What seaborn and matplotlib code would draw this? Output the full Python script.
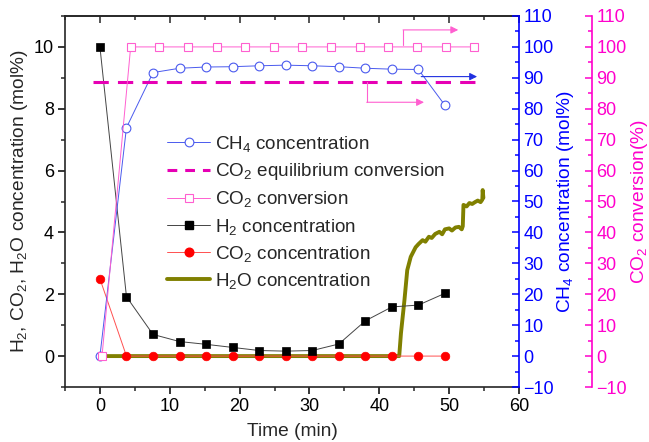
import matplotlib
matplotlib.use('Agg')
import matplotlib.pyplot as plt
import seaborn as sns
from matplotlib.lines import Line2D
from matplotlib.ticker import MultipleLocator

# ---------------- data ----------------
time_pts = [0, 3.8, 7.6, 11.4, 15.2, 19.0, 22.8, 26.6, 30.4, 34.2, 38.0, 41.8, 45.6, 49.4]
h2_conc = [10.0, 1.92, 0.70, 0.47, 0.38, 0.28, 0.18, 0.16, 0.18, 0.39, 1.14, 1.59, 1.65, 2.03]
co2_conc = [2.5, 0, 0, 0, 0, 0, 0, 0, 0, 0, 0, 0, 0, 0]
ch4_conc = [0, 73.9, 91.7, 93.1, 93.5, 93.6, 93.9, 94.1, 93.9, 93.6, 93.1, 92.8, 92.7, 81.1]

conv_time = [0.3, 4.4, 8.5, 12.6, 16.7, 20.8, 24.9, 29.0, 33.1, 37.2, 41.3, 45.4, 49.5, 53.6]
co2_conv = [0, 100, 100, 100, 100, 100, 100, 100, 100, 100, 100, 100, 100, 100]

eq_time = [-1, 55]
co2_eq_conv = [88.5, 88.5]

h2o_time = [0, 42.85, 43.1, 43.6, 44.0, 44.5, 45.2, 45.6, 46.2, 46.6, 47.1, 47.5, 48.0,
            48.6, 49.0, 49.4, 50.0, 50.4, 50.9, 51.4, 51.8, 51.95, 52.05, 52.5, 52.9,
            53.3, 53.7, 54.1, 54.5, 54.75, 54.8, 54.9]
h2o_conc = [0, 0, 0.74, 1.81, 2.78, 3.21, 3.52, 3.62, 3.75, 3.70, 3.86, 3.82, 3.95,
            4.02, 3.94, 4.10, 4.13, 4.06, 4.16, 4.18, 4.10, 4.20, 4.89, 4.84, 4.95,
            4.92, 4.98, 5.03, 4.98, 5.06, 5.37, 5.12]

legend_labels = ["CH$_4$ concentration", "CO$_2$ equilibrium conversion", "CO$_2$ conversion",
                 "H$_2$ concentration", "CO$_2$ concentration", "H$_2$O concentration"]

# ---------------- style ----------------
sns.set_style('ticks')
plt.rcParams['font.family'] = ['Liberation Sans', 'DejaVu Sans']
plt.rcParams['mathtext.fontset'] = 'custom'
plt.rcParams['mathtext.rm'] = 'Liberation Sans'
plt.rcParams['mathtext.it'] = 'Liberation Sans:italic'
plt.rcParams['mathtext.default'] = 'regular'

BLUE_AX = '#0000ff'
BLUE = '#4a5aee'
PINK_AX = '#ff00cc'
PINK = '#ff5fd0'
MAG = '#e600b4'
RED = '#ff0000'
OLIVE = '#808000'
TICK_FS = 13
LABEL_FS = 13.8

fig = plt.figure(figsize=(6.49, 4.42), dpi=100)
ax = fig.add_axes([65 / 649, 1 - 387 / 442, (519 - 65) / 649, (387 - 16) / 442])
ax2 = ax.twinx()
ax3 = ax.twinx()

# ---------------- main axis series ----------------
sns.lineplot(x=h2o_time, y=h2o_conc, ax=ax, color=OLIVE, linewidth=2.8,
             estimator=None, sort=False, zorder=2)
sns.lineplot(x=time_pts, y=co2_conc, ax=ax, color='#ff5050', linewidth=0.7,
             marker='o', markersize=6.2, markerfacecolor=RED, markeredgecolor=RED,
             markeredgewidth=0.5, estimator=None, sort=False, zorder=3)
sns.lineplot(x=time_pts, y=h2_conc, ax=ax, color='#444444', linewidth=0.7,
             marker='s', markersize=5.4, markerfacecolor='black', markeredgecolor='black',
             markeredgewidth=0.5, estimator=None, sort=False, zorder=4)

# ---------------- CH4 axis ----------------
sns.lineplot(x=time_pts, y=ch4_conc, ax=ax2, color=BLUE, linewidth=0.7,
             marker='o', markersize=6.3, markerfacecolor='white', markeredgecolor=BLUE,
             markeredgewidth=0.8, estimator=None, sort=False)

# ---------------- CO2 conversion axis ----------------
sns.lineplot(x=eq_time, y=co2_eq_conv, ax=ax3, color=MAG, linewidth=2.2,
             dashes=False, estimator=None, sort=False)
ax3.lines[-1].set_dashes((5, 3))
sns.lineplot(x=conv_time, y=co2_conv, ax=ax3, color=PINK, linewidth=0.7,
             marker='s', markersize=5.6, markerfacecolor='white', markeredgecolor=PINK,
             markeredgewidth=0.8, estimator=None, sort=False)

# arrows
ax3.plot([43.4, 43.4], [100.6, 105.5], color=PINK, lw=0.8)
ax3.annotate('', xy=(51.3, 105.5), xytext=(43.4, 105.5),
             arrowprops=dict(arrowstyle='-|>', color=PINK, lw=0.8, mutation_scale=11,
                             shrinkA=0, shrinkB=0))
ax2.annotate('', xy=(54.0, 90.4), xytext=(46.0, 90.4),
             arrowprops=dict(arrowstyle='-|>', color='#2030e0', lw=0.8, mutation_scale=11,
                             shrinkA=0, shrinkB=0))
ax3.plot([38.2, 38.2], [88.5, 82.1], color=PINK, lw=0.8)
ax3.annotate('', xy=(46.4, 82.1), xytext=(38.2, 82.1),
             arrowprops=dict(arrowstyle='-|>', color=PINK, lw=0.8, mutation_scale=11,
                             shrinkA=0, shrinkB=0))

# ---------------- axes formatting ----------------
ax.set_xlim(-5, 60)
ax.set_ylim(-1, 11)
ax2.set_ylim(-10, 110)
ax3.set_ylim(-10, 110)

ax.xaxis.set_major_locator(MultipleLocator(10))
ax.xaxis.set_minor_locator(MultipleLocator(5))
ax.yaxis.set_major_locator(MultipleLocator(2))
ax.yaxis.set_minor_locator(MultipleLocator(1))
for a in (ax2, ax3):
    a.yaxis.set_major_locator(MultipleLocator(10))
    a.yaxis.set_minor_locator(MultipleLocator(5))

ax.tick_params(axis='both', which='major', direction='out', length=5, width=1.1,
               labelsize=TICK_FS, colors='black', pad=3)
ax.tick_params(axis='both', which='minor', direction='out', length=3, width=1.1)
ax.tick_params(axis='x', top=False)
ax.tick_params(axis='y', right=False)

sec = ax.secondary_xaxis('top')
sec.xaxis.set_major_locator(MultipleLocator(10))
sec.xaxis.set_minor_locator(MultipleLocator(5))
sec.tick_params(which='major', direction='in', length=5, width=1.1, labeltop=False)
sec.tick_params(which='minor', direction='in', length=3, width=1.1)
sec.spines['top'].set_linewidth(1.2)

for s in ax.spines.values():
    s.set_linewidth(1.2)
ax.spines['right'].set_visible(False)

for a in (ax2, ax3):
    for k in ('top', 'left', 'bottom'):
        a.spines[k].set_visible(False)
    a.spines['right'].set_linewidth(1.2)

ax2.spines['right'].set_color(BLUE_AX)
ax2.tick_params(axis='y', which='major', direction='in', length=5, width=1.1,
                colors=BLUE_AX, labelsize=TICK_FS, pad=3)
ax2.tick_params(axis='y', which='minor', direction='in', length=3, width=1.1, colors=BLUE_AX)

ax3.spines['right'].set_position(('outward', 73 * 72 / 100))
ax3.spines['right'].set_color(PINK_AX)
ax3.tick_params(axis='y', which='major', direction='in', length=5, width=1.1,
                colors=PINK_AX, labelsize=TICK_FS, pad=3)
ax3.tick_params(axis='y', which='minor', direction='in', length=3, width=1.1, colors=PINK_AX)

ax.set_xlabel('Time (min)', fontsize=LABEL_FS, labelpad=6)
ax.set_ylabel('H$_2$, CO$_2$, H$_2$O concentration (mol%)', fontsize=LABEL_FS, labelpad=3)
ax2.set_ylabel('CH$_4$ concentration (mol%)', fontsize=LABEL_FS, color=BLUE_AX, labelpad=1)
ax3.set_ylabel('CO$_2$ conversion(%)', fontsize=LABEL_FS, color=PINK_AX, labelpad=1.5)

# ---------------- legend ----------------
handles = [
    Line2D([], [], color=BLUE, lw=0.7, marker='o', ms=6.3, mfc='white', mec=BLUE, mew=0.8),
    Line2D([], [], color=MAG, lw=2.2, dashes=(3.2, 2.6)),
    Line2D([], [], color=PINK, lw=0.7, marker='s', ms=5.6, mfc='white', mec=PINK, mew=0.8),
    Line2D([], [], color='#444444', lw=0.7, marker='s', ms=5.4, mfc='black', mec='black'),
    Line2D([], [], color='#ff5050', lw=0.7, marker='o', ms=6.2, mfc=RED, mec=RED),
    Line2D([], [], color=OLIVE, lw=2.8),
]
leg = ax3.legend(handles, legend_labels, loc='upper left',
                 bbox_to_anchor=(167 / 649, 1 - 134 / 442), bbox_transform=fig.transFigure,
                 frameon=False, fontsize=13.6, handlelength=2.3, handletextpad=0.25,
                 labelspacing=0.38, borderpad=0, borderaxespad=0)

fig.savefig('out.png', dpi=100)
